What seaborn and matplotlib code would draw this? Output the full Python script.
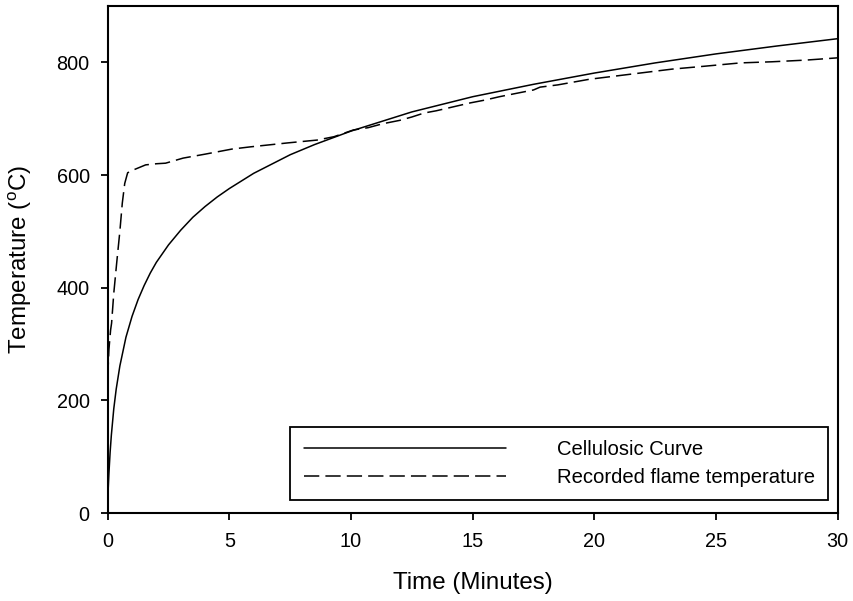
import pandas as pd
import matplotlib
matplotlib.use('Agg')
import matplotlib.pyplot as plt
import seaborn as sns

# cellulosic (standard) fire curve
cell_time = [0, 0.01, 0.02, 0.05, 0.1, 0.15, 0.25, 0.35, 0.5, 0.75, 1, 1.25, 1.5, 1.75,
             2, 2.5, 3, 3.5, 4, 4.5, 5, 6, 7.5, 8.5, 10, 12.5, 15, 17.5, 20, 22.5,
             25, 27.5, 30]
cell_temp = [20, 31, 42, 70, 108, 138, 185, 220, 261, 312, 349, 379, 404, 426,
             445, 476, 502, 525, 544, 561, 576, 603, 636, 654, 678, 712, 739, 761, 781, 799,
             815, 829, 842]

# recorded flame temperature
rec_time = [0, 0.05, 0.12, 0.16, 0.25, 0.37, 0.5, 0.6, 0.7, 0.82, 1.0, 1.56, 2.0, 2.38,
            3.1, 4.0, 5.1, 5.87, 7.4, 8.6, 9.3, 10.1, 10.7, 11.3, 12.0, 12.5, 13.0,
            13.5, 14.0, 14.9, 15.5, 16.1, 16.8, 17.5, 17.77, 18.5, 19.8, 21.5, 23.2,
            24.5, 26.0, 27.3, 28.7, 30]
rec_temp = [240, 290, 325, 337, 390, 444, 500, 550, 585, 604, 608, 618, 620, 621,
            630, 637, 646, 650, 657, 662, 668, 680, 684, 691, 697, 703, 710,
            714, 719, 728, 733, 739, 745, 751, 756, 760, 770, 779, 788,
            793, 799, 801, 804, 808]

x_ticks = [0, 5, 10, 15, 20, 25, 30]
y_ticks = [0, 200, 400, 600, 800]

cell_df = pd.DataFrame({'time': cell_time, 'temp': cell_temp})
rec_df = pd.DataFrame({'time': rec_time, 'temp': rec_temp})

sns.set_style('ticks')
plt.rcParams['font.family'] = ['Liberation Sans', 'DejaVu Sans']
plt.rcParams['mathtext.fontset'] = 'custom'
plt.rcParams['mathtext.rm'] = 'Liberation Sans'

fig = plt.figure(figsize=(8.54, 6.01), dpi=100)
ax = fig.add_axes([0.1261, 0.1464, 0.8548, 0.8436])

sns.lineplot(data=cell_df, x='time', y='temp', ax=ax, color='black', lw=1.1,
             label='Cellulosic Curve')
sns.lineplot(data=rec_df, x='time', y='temp', ax=ax, color='black', lw=1.1,
             dashes=False, label='Recorded flame temperature')
ax.lines[1].set_dashes((10, 4))

ax.set_xlim(0, 30)
ax.set_ylim(0, 900)
ax.set_xticks(x_ticks)
ax.set_yticks(y_ticks)
ax.tick_params(axis='both', labelsize=14.3, length=5, width=1.3, direction='out',
               color='black', labelcolor='black')
ax.tick_params(axis='x', pad=9)
ax.tick_params(axis='y', pad=8)

for side in ['left', 'right', 'top', 'bottom']:
    ax.spines[side].set_visible(True)
    ax.spines[side].set_color('black')
    ax.spines[side].set_linewidth(1.5)

ax.set_xlabel('Time (Minutes)', fontsize=17.4, labelpad=15, color='black')
ax.set_ylabel('Temperature ($\\rm^{o}$C)', fontsize=17.4, labelpad=16, color='black')

leg = ax.legend(loc='lower right', bbox_to_anchor=(0.987, 0.0256), fontsize=14.6,
                frameon=True, fancybox=False, framealpha=1, edgecolor='black',
                handlelength=10.0, handletextpad=2.5, borderpad=0.65,
                labelspacing=0.45, borderaxespad=0)
leg.get_frame().set_linewidth(1.3)
for txt in leg.get_texts():
    txt.set_color('black')

fig.savefig('out.png', dpi=100)
plt.close()
